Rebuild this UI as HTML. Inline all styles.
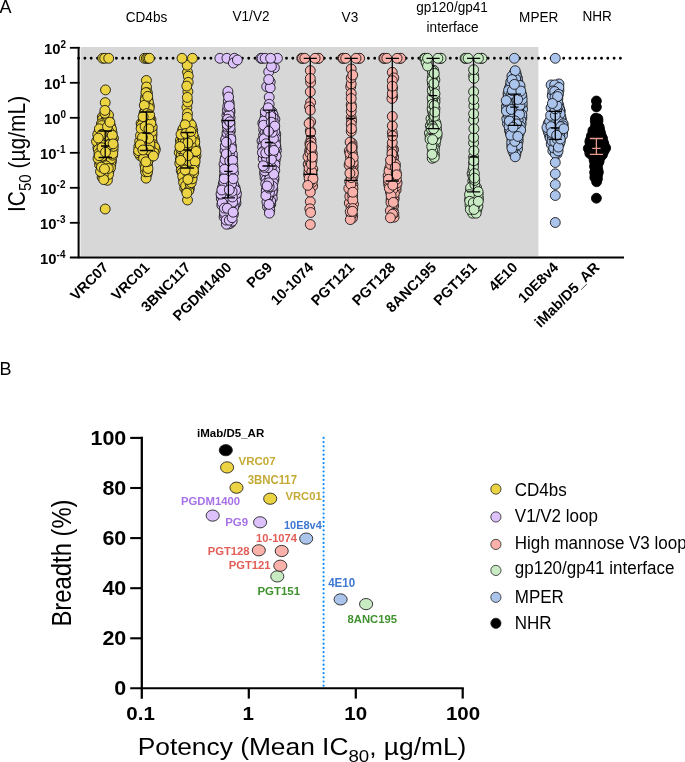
<!DOCTYPE html>
<html><head><meta charset="utf-8"><style>
html,body{margin:0;padding:0;background:#fff;}
body{width:685px;height:762px;overflow:hidden;font-family:"Liberation Sans",sans-serif;}
svg{display:block;will-change:transform;}
</style></head><body>
<svg width="685" height="762" viewBox="0 0 685 762">
<rect x="80.5" y="47" width="457.9" height="209.3" fill="#d7d7d7"/>
<line x1="78.6" y1="58.3" x2="623" y2="58.3" stroke="#000" stroke-width="2.9" stroke-linecap="round" stroke-dasharray="0 6.3"/>
<g fill="#ecd341" stroke="#0d0d0d" stroke-width="0.85"><circle cx="109.0" cy="155.4" r="4.95"/><circle cx="104.8" cy="146.8" r="4.95"/><circle cx="102.3" cy="117.0" r="4.95"/><circle cx="103.9" cy="164.4" r="4.95"/><circle cx="102.5" cy="119.3" r="4.95"/><circle cx="106.6" cy="132.4" r="4.95"/><circle cx="97.9" cy="143.3" r="4.95"/><circle cx="105.3" cy="171.5" r="4.95"/><circle cx="107.6" cy="176.2" r="4.95"/><circle cx="101.7" cy="153.2" r="4.95"/><circle cx="99.5" cy="164.6" r="4.95"/><circle cx="101.5" cy="141.9" r="4.95"/><circle cx="98.9" cy="132.2" r="4.95"/><circle cx="106.7" cy="113.8" r="4.95"/><circle cx="111.5" cy="161.3" r="4.95"/><circle cx="108.7" cy="147.7" r="4.95"/><circle cx="112.1" cy="132.7" r="4.95"/><circle cx="104.4" cy="159.7" r="4.95"/><circle cx="109.4" cy="153.5" r="4.95"/><circle cx="110.6" cy="126.1" r="4.95"/><circle cx="108.6" cy="158.4" r="4.95"/><circle cx="113.5" cy="138.3" r="4.95"/><circle cx="106.6" cy="116.9" r="4.95"/><circle cx="107.9" cy="137.9" r="4.95"/><circle cx="106.5" cy="128.5" r="4.95"/><circle cx="99.8" cy="161.3" r="4.95"/><circle cx="105.4" cy="155.2" r="4.95"/><circle cx="104.8" cy="138.2" r="4.95"/><circle cx="97.7" cy="134.6" r="4.95"/><circle cx="108.4" cy="119.5" r="4.95"/><circle cx="106.2" cy="149.6" r="4.95"/><circle cx="111.5" cy="128.9" r="4.95"/><circle cx="97.9" cy="147.7" r="4.95"/><circle cx="103.3" cy="128.2" r="4.95"/><circle cx="109.1" cy="170.5" r="4.95"/><circle cx="102.1" cy="177.0" r="4.95"/><circle cx="103.9" cy="125.3" r="4.95"/><circle cx="108.6" cy="135.0" r="4.95"/><circle cx="110.7" cy="164.4" r="4.95"/><circle cx="111.6" cy="138.8" r="4.95"/><circle cx="106.0" cy="120.6" r="4.95"/><circle cx="113.1" cy="150.1" r="4.95"/><circle cx="110.5" cy="167.8" r="4.95"/><circle cx="106.7" cy="174.6" r="4.95"/><circle cx="108.1" cy="162.0" r="4.95"/><circle cx="107.4" cy="180.3" r="4.95"/><circle cx="96.5" cy="141.4" r="4.95"/><circle cx="108.9" cy="149.9" r="4.95"/><circle cx="104.6" cy="162.9" r="4.95"/><circle cx="111.2" cy="158.7" r="4.95"/><circle cx="101.7" cy="137.7" r="4.95"/><circle cx="109.0" cy="141.3" r="4.95"/><circle cx="112.4" cy="140.9" r="4.95"/><circle cx="101.4" cy="158.8" r="4.95"/><circle cx="101.6" cy="144.5" r="4.95"/><circle cx="98.0" cy="158.4" r="4.95"/><circle cx="108.6" cy="174.4" r="4.95"/><circle cx="108.5" cy="115.0" r="4.95"/><circle cx="105.7" cy="140.6" r="4.95"/><circle cx="105.3" cy="122.8" r="4.95"/><circle cx="104.9" cy="113.2" r="4.95"/><circle cx="101.4" cy="123.8" r="4.95"/><circle cx="112.6" cy="155.2" r="4.95"/><circle cx="102.6" cy="131.6" r="4.95"/><circle cx="106.2" cy="165.8" r="4.95"/><circle cx="102.1" cy="150.0" r="4.95"/><circle cx="112.8" cy="153.5" r="4.95"/><circle cx="98.4" cy="149.5" r="4.95"/><circle cx="101.7" cy="125.6" r="4.95"/><circle cx="105.5" cy="143.5" r="4.95"/><circle cx="98.9" cy="153.3" r="4.95"/><circle cx="109.2" cy="132.1" r="4.95"/><circle cx="108.3" cy="168.4" r="4.95"/><circle cx="103.2" cy="174.9" r="4.95"/><circle cx="113.3" cy="146.4" r="4.95"/><circle cx="99.4" cy="128.8" r="4.95"/><circle cx="103.7" cy="179.6" r="4.95"/><circle cx="105.2" cy="102.6" r="4.95"/><circle cx="100.5" cy="171.5" r="4.95"/><circle cx="104.9" cy="110.4" r="4.95"/><circle cx="101.4" cy="167.1" r="4.95"/><circle cx="104.5" cy="168.9" r="4.95"/><circle cx="102.1" cy="156.2" r="4.95"/><circle cx="105.1" cy="135.5" r="4.95"/><circle cx="109.7" cy="144.7" r="4.95"/><circle cx="102.0" cy="134.3" r="4.95"/><circle cx="99.2" cy="155.8" r="4.95"/><circle cx="98.3" cy="138.1" r="4.95"/><circle cx="107.5" cy="126.6" r="4.95"/><circle cx="112.3" cy="135.3" r="4.95"/><circle cx="109.9" cy="122.2" r="4.95"/><circle cx="102.0" cy="147.7" r="4.95"/><circle cx="105.2" cy="209.0" r="4.95"/><circle cx="105.5" cy="89.9" r="4.95"/><circle cx="105.5" cy="152.2" r="4.95"/><circle cx="113.1" cy="143.9" r="4.95"/><circle cx="102.7" cy="58.3" r="4.95"/><circle cx="104.7" cy="58.3" r="4.95"/><circle cx="108.7" cy="58.3" r="4.95"/></g>
<g stroke="#000" stroke-width="1.3" fill="none"><path d="M105.2 131 V157.5 M98.6 131 H111.8 M98.6 157.5 H111.8 M101.0 146 H109.4"/></g>
<g fill="#ecd341" stroke="#0d0d0d" stroke-width="0.85"><circle cx="141.8" cy="152.6" r="4.95"/><circle cx="147.0" cy="174.1" r="4.95"/><circle cx="143.6" cy="144.3" r="4.95"/><circle cx="144.4" cy="122.8" r="4.95"/><circle cx="144.0" cy="128.5" r="4.95"/><circle cx="146.8" cy="144.0" r="4.95"/><circle cx="148.8" cy="135.5" r="4.95"/><circle cx="144.8" cy="164.6" r="4.95"/><circle cx="141.1" cy="123.3" r="4.95"/><circle cx="140.2" cy="155.7" r="4.95"/><circle cx="147.9" cy="99.5" r="4.95"/><circle cx="144.5" cy="134.5" r="4.95"/><circle cx="145.0" cy="131.7" r="4.95"/><circle cx="149.3" cy="105.7" r="4.95"/><circle cx="147.8" cy="123.7" r="4.95"/><circle cx="151.0" cy="119.7" r="4.95"/><circle cx="148.8" cy="159.3" r="4.95"/><circle cx="148.0" cy="157.2" r="4.95"/><circle cx="151.9" cy="129.2" r="4.95"/><circle cx="149.8" cy="132.4" r="4.95"/><circle cx="146.4" cy="90.4" r="4.95"/><circle cx="152.1" cy="134.6" r="4.95"/><circle cx="147.5" cy="164.5" r="4.95"/><circle cx="152.0" cy="141.0" r="4.95"/><circle cx="146.1" cy="178.2" r="4.95"/><circle cx="146.4" cy="80.5" r="4.95"/><circle cx="152.3" cy="149.5" r="4.95"/><circle cx="143.4" cy="119.8" r="4.95"/><circle cx="146.5" cy="120.1" r="4.95"/><circle cx="146.7" cy="117.6" r="4.95"/><circle cx="145.3" cy="102.3" r="4.95"/><circle cx="149.8" cy="118.0" r="4.95"/><circle cx="148.4" cy="102.2" r="4.95"/><circle cx="142.3" cy="132.9" r="4.95"/><circle cx="145.6" cy="109.1" r="4.95"/><circle cx="146.1" cy="150.7" r="4.95"/><circle cx="145.5" cy="171.8" r="4.95"/><circle cx="151.8" cy="137.9" r="4.95"/><circle cx="139.7" cy="141.3" r="4.95"/><circle cx="148.8" cy="121.2" r="4.95"/><circle cx="145.4" cy="167.9" r="4.95"/><circle cx="145.8" cy="147.9" r="4.95"/><circle cx="152.0" cy="131.6" r="4.95"/><circle cx="144.6" cy="111.9" r="4.95"/><circle cx="138.7" cy="152.9" r="4.95"/><circle cx="148.3" cy="110.6" r="4.95"/><circle cx="155.4" cy="149.5" r="4.95"/><circle cx="147.9" cy="140.5" r="4.95"/><circle cx="144.0" cy="113.5" r="4.95"/><circle cx="141.4" cy="125.4" r="4.95"/><circle cx="142.5" cy="148.1" r="4.95"/><circle cx="153.3" cy="144.7" r="4.95"/><circle cx="138.8" cy="146.7" r="4.95"/><circle cx="154.6" cy="147.1" r="4.95"/><circle cx="140.5" cy="135.6" r="4.95"/><circle cx="150.7" cy="152.9" r="4.95"/><circle cx="141.1" cy="128.6" r="4.95"/><circle cx="149.3" cy="125.5" r="4.95"/><circle cx="146.1" cy="138.2" r="4.95"/><circle cx="145.7" cy="96.8" r="4.95"/><circle cx="144.0" cy="140.6" r="4.95"/><circle cx="143.7" cy="155.9" r="4.95"/><circle cx="146.5" cy="87.0" r="4.95"/><circle cx="152.2" cy="126.8" r="4.95"/><circle cx="150.1" cy="147.3" r="4.95"/><circle cx="145.1" cy="126.5" r="4.95"/><circle cx="150.9" cy="155.8" r="4.95"/><circle cx="145.2" cy="100.0" r="4.95"/><circle cx="149.9" cy="143.9" r="4.95"/><circle cx="148.8" cy="138.4" r="4.95"/><circle cx="149.2" cy="108.4" r="4.95"/><circle cx="142.5" cy="137.5" r="4.95"/><circle cx="147.6" cy="171.7" r="4.95"/><circle cx="148.0" cy="168.5" r="4.95"/><circle cx="147.4" cy="92.8" r="4.95"/><circle cx="144.3" cy="105.3" r="4.95"/><circle cx="150.9" cy="123.4" r="4.95"/><circle cx="154.1" cy="152.9" r="4.95"/><circle cx="145.9" cy="92.6" r="4.95"/><circle cx="146.9" cy="154.0" r="4.95"/><circle cx="147.8" cy="161.4" r="4.95"/><circle cx="149.3" cy="150.1" r="4.95"/><circle cx="146.9" cy="113.5" r="4.95"/><circle cx="138.6" cy="150.6" r="4.95"/><circle cx="140.2" cy="144.8" r="4.95"/><circle cx="143.6" cy="158.4" r="4.95"/><circle cx="142.9" cy="150.0" r="4.95"/><circle cx="147.7" cy="96.4" r="4.95"/><circle cx="149.6" cy="114.8" r="4.95"/><circle cx="145.9" cy="161.8" r="4.95"/><circle cx="153.4" cy="156.0" r="4.95"/><circle cx="148.9" cy="128.9" r="4.95"/><circle cx="143.1" cy="116.7" r="4.95"/><circle cx="144.4" cy="58.3" r="4.95"/><circle cx="146.4" cy="58.3" r="4.95"/><circle cx="147.9" cy="58.3" r="4.95"/><circle cx="149.4" cy="58.3" r="4.95"/></g>
<g stroke="#000" stroke-width="1.3" fill="none"><path d="M146.4 112 V150.5 M139.8 112 H153.0 M139.8 150.5 H153.0 M142.2 133 H150.6"/></g>
<g fill="#ecd341" stroke="#0d0d0d" stroke-width="0.85"><circle cx="180.4" cy="140.2" r="4.95"/><circle cx="183.8" cy="145.9" r="4.95"/><circle cx="183.5" cy="179.0" r="4.95"/><circle cx="186.9" cy="182.2" r="4.95"/><circle cx="187.9" cy="148.1" r="4.95"/><circle cx="187.5" cy="140.7" r="4.95"/><circle cx="187.8" cy="164.8" r="4.95"/><circle cx="190.8" cy="167.1" r="4.95"/><circle cx="189.5" cy="172.5" r="4.95"/><circle cx="192.0" cy="176.6" r="4.95"/><circle cx="186.9" cy="107.4" r="4.95"/><circle cx="180.7" cy="143.4" r="4.95"/><circle cx="192.7" cy="130.6" r="4.95"/><circle cx="188.2" cy="158.8" r="4.95"/><circle cx="187.3" cy="152.3" r="4.95"/><circle cx="181.3" cy="166.6" r="4.95"/><circle cx="194.4" cy="139.6" r="4.95"/><circle cx="192.1" cy="127.6" r="4.95"/><circle cx="187.2" cy="173.3" r="4.95"/><circle cx="187.7" cy="102.0" r="4.95"/><circle cx="179.8" cy="163.3" r="4.95"/><circle cx="184.4" cy="137.5" r="4.95"/><circle cx="187.5" cy="113.5" r="4.95"/><circle cx="192.3" cy="142.3" r="4.95"/><circle cx="187.9" cy="91.6" r="4.95"/><circle cx="182.5" cy="136.9" r="4.95"/><circle cx="185.5" cy="160.3" r="4.95"/><circle cx="189.6" cy="169.2" r="4.95"/><circle cx="181.2" cy="170.6" r="4.95"/><circle cx="186.2" cy="175.8" r="4.95"/><circle cx="183.4" cy="140.7" r="4.95"/><circle cx="182.3" cy="172.4" r="4.95"/><circle cx="196.0" cy="155.5" r="4.95"/><circle cx="187.7" cy="185.2" r="4.95"/><circle cx="191.7" cy="136.5" r="4.95"/><circle cx="194.3" cy="164.5" r="4.95"/><circle cx="187.8" cy="124.7" r="4.95"/><circle cx="187.5" cy="72.1" r="4.95"/><circle cx="191.3" cy="157.9" r="4.95"/><circle cx="189.4" cy="188.4" r="4.95"/><circle cx="182.7" cy="176.4" r="4.95"/><circle cx="182.5" cy="130.8" r="4.95"/><circle cx="193.9" cy="166.6" r="4.95"/><circle cx="187.3" cy="130.2" r="4.95"/><circle cx="185.9" cy="166.4" r="4.95"/><circle cx="184.7" cy="188.2" r="4.95"/><circle cx="188.0" cy="167.5" r="4.95"/><circle cx="192.9" cy="148.8" r="4.95"/><circle cx="187.0" cy="127.1" r="4.95"/><circle cx="186.6" cy="190.9" r="4.95"/><circle cx="183.6" cy="182.7" r="4.95"/><circle cx="185.0" cy="142.8" r="4.95"/><circle cx="184.8" cy="154.9" r="4.95"/><circle cx="184.2" cy="163.2" r="4.95"/><circle cx="189.3" cy="122.4" r="4.95"/><circle cx="183.1" cy="128.8" r="4.95"/><circle cx="195.0" cy="158.5" r="4.95"/><circle cx="183.7" cy="157.2" r="4.95"/><circle cx="185.6" cy="185.7" r="4.95"/><circle cx="188.2" cy="137.7" r="4.95"/><circle cx="180.4" cy="158.8" r="4.95"/><circle cx="192.6" cy="161.7" r="4.95"/><circle cx="188.3" cy="76.2" r="4.95"/><circle cx="195.4" cy="148.5" r="4.95"/><circle cx="194.1" cy="137.8" r="4.95"/><circle cx="179.2" cy="152.5" r="4.95"/><circle cx="188.2" cy="82.4" r="4.95"/><circle cx="191.2" cy="164.1" r="4.95"/><circle cx="194.7" cy="145.4" r="4.95"/><circle cx="194.8" cy="142.2" r="4.95"/><circle cx="188.8" cy="190.7" r="4.95"/><circle cx="181.3" cy="154.8" r="4.95"/><circle cx="188.9" cy="161.4" r="4.95"/><circle cx="190.2" cy="184.2" r="4.95"/><circle cx="190.2" cy="133.9" r="4.95"/><circle cx="193.0" cy="154.3" r="4.95"/><circle cx="187.3" cy="97.4" r="4.95"/><circle cx="186.2" cy="122.3" r="4.95"/><circle cx="191.5" cy="152.5" r="4.95"/><circle cx="191.2" cy="182.7" r="4.95"/><circle cx="191.2" cy="146.1" r="4.95"/><circle cx="192.1" cy="178.9" r="4.95"/><circle cx="193.0" cy="134.5" r="4.95"/><circle cx="195.1" cy="161.5" r="4.95"/><circle cx="191.2" cy="124.7" r="4.95"/><circle cx="183.5" cy="152.1" r="4.95"/><circle cx="187.2" cy="146.5" r="4.95"/><circle cx="193.7" cy="172.8" r="4.95"/><circle cx="191.1" cy="139.4" r="4.95"/><circle cx="187.3" cy="117.4" r="4.95"/><circle cx="187.2" cy="65.2" r="4.95"/><circle cx="185.1" cy="124.8" r="4.95"/><circle cx="187.5" cy="200.0" r="4.95"/><circle cx="196.0" cy="151.3" r="4.95"/><circle cx="186.9" cy="193.2" r="4.95"/><circle cx="180.6" cy="148.7" r="4.95"/><circle cx="184.2" cy="149.6" r="4.95"/><circle cx="188.9" cy="175.1" r="4.95"/><circle cx="193.4" cy="170.3" r="4.95"/><circle cx="188.0" cy="143.0" r="4.95"/><circle cx="186.8" cy="86.1" r="4.95"/><circle cx="188.1" cy="155.6" r="4.95"/><circle cx="187.9" cy="179.5" r="4.95"/><circle cx="180.6" cy="160.4" r="4.95"/><circle cx="185.1" cy="170.0" r="4.95"/><circle cx="181.0" cy="134.3" r="4.95"/><circle cx="185.8" cy="133.4" r="4.95"/><circle cx="179.9" cy="146.6" r="4.95"/><circle cx="190.8" cy="131.5" r="4.95"/><circle cx="182.0" cy="58.3" r="4.95"/><circle cx="192.5" cy="58.3" r="4.95"/></g>
<g stroke="#000" stroke-width="1.3" fill="none"><path d="M187.5 132.5 V168 M180.9 132.5 H194.1 M180.9 168 H194.1 M183.3 150 H191.7"/></g>
<g fill="#dcc1fb" stroke="#0d0d0d" stroke-width="0.85"><circle cx="231.0" cy="152.0" r="4.95"/><circle cx="236.0" cy="196.8" r="4.95"/><circle cx="236.0" cy="203.2" r="4.95"/><circle cx="234.4" cy="205.3" r="4.95"/><circle cx="225.1" cy="194.1" r="4.95"/><circle cx="232.6" cy="158.2" r="4.95"/><circle cx="229.9" cy="214.9" r="4.95"/><circle cx="225.1" cy="166.3" r="4.95"/><circle cx="232.4" cy="154.1" r="4.95"/><circle cx="223.9" cy="199.7" r="4.95"/><circle cx="226.6" cy="121.0" r="4.95"/><circle cx="228.1" cy="216.7" r="4.95"/><circle cx="228.3" cy="162.9" r="4.95"/><circle cx="224.4" cy="176.0" r="4.95"/><circle cx="235.1" cy="187.8" r="4.95"/><circle cx="226.7" cy="136.7" r="4.95"/><circle cx="224.1" cy="216.9" r="4.95"/><circle cx="223.3" cy="184.2" r="4.95"/><circle cx="230.7" cy="223.1" r="4.95"/><circle cx="230.4" cy="130.7" r="4.95"/><circle cx="232.0" cy="193.3" r="4.95"/><circle cx="228.4" cy="151.5" r="4.95"/><circle cx="226.9" cy="181.0" r="4.95"/><circle cx="225.9" cy="205.5" r="4.95"/><circle cx="221.8" cy="205.1" r="4.95"/><circle cx="221.3" cy="198.6" r="4.95"/><circle cx="228.8" cy="223.9" r="4.95"/><circle cx="228.3" cy="211.5" r="4.95"/><circle cx="230.1" cy="117.7" r="4.95"/><circle cx="233.4" cy="214.3" r="4.95"/><circle cx="231.2" cy="178.8" r="4.95"/><circle cx="225.5" cy="139.7" r="4.95"/><circle cx="229.7" cy="133.5" r="4.95"/><circle cx="222.0" cy="195.7" r="4.95"/><circle cx="224.6" cy="214.6" r="4.95"/><circle cx="231.5" cy="208.1" r="4.95"/><circle cx="232.1" cy="176.2" r="4.95"/><circle cx="228.5" cy="170.3" r="4.95"/><circle cx="229.2" cy="102.9" r="4.95"/><circle cx="224.9" cy="197.3" r="4.95"/><circle cx="231.6" cy="200.2" r="4.95"/><circle cx="226.9" cy="115.4" r="4.95"/><circle cx="225.9" cy="202.0" r="4.95"/><circle cx="232.2" cy="221.2" r="4.95"/><circle cx="228.5" cy="205.7" r="4.95"/><circle cx="224.0" cy="164.3" r="4.95"/><circle cx="231.4" cy="146.1" r="4.95"/><circle cx="225.4" cy="157.8" r="4.95"/><circle cx="229.8" cy="202.7" r="4.95"/><circle cx="228.2" cy="192.7" r="4.95"/><circle cx="226.4" cy="224.2" r="4.95"/><circle cx="235.7" cy="200.1" r="4.95"/><circle cx="227.9" cy="112.1" r="4.95"/><circle cx="236.5" cy="193.5" r="4.95"/><circle cx="228.3" cy="156.7" r="4.95"/><circle cx="225.0" cy="150.7" r="4.95"/><circle cx="229.4" cy="154.8" r="4.95"/><circle cx="232.8" cy="182.3" r="4.95"/><circle cx="224.5" cy="212.3" r="4.95"/><circle cx="232.0" cy="162.8" r="4.95"/><circle cx="233.5" cy="173.0" r="4.95"/><circle cx="233.8" cy="185.1" r="4.95"/><circle cx="230.0" cy="112.1" r="4.95"/><circle cx="230.8" cy="143.4" r="4.95"/><circle cx="227.0" cy="132.9" r="4.95"/><circle cx="235.6" cy="190.4" r="4.95"/><circle cx="228.3" cy="101.4" r="4.95"/><circle cx="228.7" cy="198.8" r="4.95"/><circle cx="226.2" cy="220.1" r="4.95"/><circle cx="233.6" cy="207.7" r="4.95"/><circle cx="228.1" cy="130.0" r="4.95"/><circle cx="229.0" cy="196.9" r="4.95"/><circle cx="227.9" cy="177.8" r="4.95"/><circle cx="231.2" cy="205.3" r="4.95"/><circle cx="224.7" cy="171.9" r="4.95"/><circle cx="232.7" cy="202.2" r="4.95"/><circle cx="230.4" cy="188.1" r="4.95"/><circle cx="225.0" cy="159.6" r="4.95"/><circle cx="226.9" cy="185.3" r="4.95"/><circle cx="227.5" cy="110.0" r="4.95"/><circle cx="232.4" cy="197.0" r="4.95"/><circle cx="227.4" cy="148.3" r="4.95"/><circle cx="229.7" cy="165.8" r="4.95"/><circle cx="231.5" cy="148.7" r="4.95"/><circle cx="230.1" cy="123.6" r="4.95"/><circle cx="232.1" cy="191.4" r="4.95"/><circle cx="229.8" cy="110.0" r="4.95"/><circle cx="229.1" cy="115.0" r="4.95"/><circle cx="228.8" cy="171.7" r="4.95"/><circle cx="227.4" cy="127.0" r="4.95"/><circle cx="225.3" cy="145.9" r="4.95"/><circle cx="227.8" cy="93.7" r="4.95"/><circle cx="222.2" cy="202.8" r="4.95"/><circle cx="230.0" cy="127.3" r="4.95"/><circle cx="228.1" cy="176.1" r="4.95"/><circle cx="225.5" cy="190.3" r="4.95"/><circle cx="229.3" cy="220.2" r="4.95"/><circle cx="230.5" cy="136.8" r="4.95"/><circle cx="227.2" cy="124.4" r="4.95"/><circle cx="226.0" cy="187.3" r="4.95"/><circle cx="224.4" cy="208.1" r="4.95"/><circle cx="222.4" cy="187.8" r="4.95"/><circle cx="232.9" cy="165.9" r="4.95"/><circle cx="230.9" cy="139.2" r="4.95"/><circle cx="230.1" cy="181.6" r="4.95"/><circle cx="227.3" cy="208.3" r="4.95"/><circle cx="223.9" cy="181.7" r="4.95"/><circle cx="227.7" cy="119.2" r="4.95"/><circle cx="226.3" cy="153.9" r="4.95"/><circle cx="229.7" cy="161.0" r="4.95"/><circle cx="231.6" cy="183.9" r="4.95"/><circle cx="227.9" cy="91.4" r="4.95"/><circle cx="232.1" cy="217.7" r="4.95"/><circle cx="228.6" cy="97.0" r="4.95"/><circle cx="227.8" cy="106.4" r="4.95"/><circle cx="221.0" cy="194.1" r="4.95"/><circle cx="221.8" cy="190.0" r="4.95"/><circle cx="226.3" cy="142.2" r="4.95"/><circle cx="224.2" cy="178.7" r="4.95"/><circle cx="229.8" cy="121.8" r="4.95"/><circle cx="229.3" cy="106.0" r="4.95"/><circle cx="233.1" cy="212.2" r="4.95"/><circle cx="232.6" cy="160.3" r="4.95"/><circle cx="233.2" cy="178.8" r="4.95"/><circle cx="224.6" cy="169.3" r="4.95"/><circle cx="233.1" cy="168.9" r="4.95"/><circle cx="229.3" cy="189.9" r="4.95"/><circle cx="219.9" cy="58.3" r="4.95"/><circle cx="226.9" cy="58.3" r="4.95"/><circle cx="234.4" cy="58.3" r="4.95"/><circle cx="233.4" cy="63.0" r="4.95"/><circle cx="237.4" cy="60.0" r="4.95"/></g>
<g stroke="#000" stroke-width="1.3" fill="none"><path d="M228.4 120.5 V197.9 M221.8 120.5 H235.0 M221.8 197.9 H235.0 M224.2 171.3 H232.6"/></g>
<g fill="#dcc1fb" stroke="#0d0d0d" stroke-width="0.85"><circle cx="272.5" cy="140.6" r="4.95"/><circle cx="275.5" cy="141.0" r="4.95"/><circle cx="269.8" cy="146.5" r="4.95"/><circle cx="266.7" cy="86.6" r="4.95"/><circle cx="265.5" cy="113.8" r="4.95"/><circle cx="270.0" cy="156.7" r="4.95"/><circle cx="269.4" cy="177.3" r="4.95"/><circle cx="272.3" cy="125.5" r="4.95"/><circle cx="272.1" cy="194.1" r="4.95"/><circle cx="276.4" cy="150.3" r="4.95"/><circle cx="271.9" cy="111.7" r="4.95"/><circle cx="274.3" cy="167.6" r="4.95"/><circle cx="267.5" cy="206.8" r="4.95"/><circle cx="271.1" cy="174.6" r="4.95"/><circle cx="263.6" cy="135.3" r="4.95"/><circle cx="272.3" cy="198.4" r="4.95"/><circle cx="270.8" cy="204.2" r="4.95"/><circle cx="265.1" cy="141.1" r="4.95"/><circle cx="274.4" cy="67.7" r="4.95"/><circle cx="268.7" cy="71.8" r="4.95"/><circle cx="276.0" cy="147.0" r="4.95"/><circle cx="270.7" cy="201.0" r="4.95"/><circle cx="263.8" cy="156.2" r="4.95"/><circle cx="273.2" cy="156.1" r="4.95"/><circle cx="268.2" cy="162.4" r="4.95"/><circle cx="266.7" cy="123.9" r="4.95"/><circle cx="266.9" cy="165.8" r="4.95"/><circle cx="275.0" cy="153.2" r="4.95"/><circle cx="266.1" cy="149.7" r="4.95"/><circle cx="270.0" cy="137.6" r="4.95"/><circle cx="269.6" cy="206.2" r="4.95"/><circle cx="264.6" cy="173.6" r="4.95"/><circle cx="269.8" cy="210.2" r="4.95"/><circle cx="265.3" cy="147.6" r="4.95"/><circle cx="269.2" cy="97.2" r="4.95"/><circle cx="275.8" cy="134.2" r="4.95"/><circle cx="273.8" cy="144.8" r="4.95"/><circle cx="272.9" cy="189.7" r="4.95"/><circle cx="272.0" cy="120.1" r="4.95"/><circle cx="264.5" cy="162.6" r="4.95"/><circle cx="273.9" cy="179.6" r="4.95"/><circle cx="273.1" cy="114.8" r="4.95"/><circle cx="269.2" cy="104.3" r="4.95"/><circle cx="262.0" cy="140.9" r="4.95"/><circle cx="263.2" cy="158.6" r="4.95"/><circle cx="265.0" cy="177.6" r="4.95"/><circle cx="274.3" cy="128.2" r="4.95"/><circle cx="274.9" cy="119.2" r="4.95"/><circle cx="275.0" cy="161.7" r="4.95"/><circle cx="263.7" cy="129.7" r="4.95"/><circle cx="269.0" cy="194.5" r="4.95"/><circle cx="267.9" cy="197.8" r="4.95"/><circle cx="268.6" cy="119.8" r="4.95"/><circle cx="262.8" cy="123.2" r="4.95"/><circle cx="273.1" cy="117.8" r="4.95"/><circle cx="266.4" cy="189.7" r="4.95"/><circle cx="265.1" cy="117.6" r="4.95"/><circle cx="275.4" cy="158.6" r="4.95"/><circle cx="270.2" cy="81.9" r="4.95"/><circle cx="272.2" cy="191.5" r="4.95"/><circle cx="276.2" cy="155.9" r="4.95"/><circle cx="270.2" cy="113.8" r="4.95"/><circle cx="266.1" cy="179.5" r="4.95"/><circle cx="265.0" cy="132.7" r="4.95"/><circle cx="266.0" cy="156.1" r="4.95"/><circle cx="269.6" cy="110.5" r="4.95"/><circle cx="263.2" cy="144.5" r="4.95"/><circle cx="274.2" cy="123.3" r="4.95"/><circle cx="271.7" cy="164.4" r="4.95"/><circle cx="272.7" cy="162.4" r="4.95"/><circle cx="267.6" cy="116.9" r="4.95"/><circle cx="262.6" cy="147.1" r="4.95"/><circle cx="274.9" cy="164.5" r="4.95"/><circle cx="267.4" cy="126.6" r="4.95"/><circle cx="269.4" cy="144.4" r="4.95"/><circle cx="264.1" cy="120.7" r="4.95"/><circle cx="274.8" cy="170.6" r="4.95"/><circle cx="272.6" cy="153.8" r="4.95"/><circle cx="266.2" cy="191.6" r="4.95"/><circle cx="269.4" cy="141.6" r="4.95"/><circle cx="275.5" cy="138.0" r="4.95"/><circle cx="266.8" cy="134.7" r="4.95"/><circle cx="274.0" cy="177.3" r="4.95"/><circle cx="267.3" cy="138.2" r="4.95"/><circle cx="265.3" cy="111.7" r="4.95"/><circle cx="268.6" cy="153.9" r="4.95"/><circle cx="267.6" cy="129.4" r="4.95"/><circle cx="266.7" cy="171.6" r="4.95"/><circle cx="264.3" cy="150.1" r="4.95"/><circle cx="270.7" cy="134.7" r="4.95"/><circle cx="270.6" cy="170.5" r="4.95"/><circle cx="275.6" cy="144.8" r="4.95"/><circle cx="268.8" cy="173.1" r="4.95"/><circle cx="264.1" cy="138.7" r="4.95"/><circle cx="274.8" cy="131.3" r="4.95"/><circle cx="269.5" cy="192.4" r="4.95"/><circle cx="266.9" cy="201.9" r="4.95"/><circle cx="271.4" cy="66.5" r="4.95"/><circle cx="271.4" cy="167.3" r="4.95"/><circle cx="266.6" cy="158.7" r="4.95"/><circle cx="269.5" cy="179.3" r="4.95"/><circle cx="273.5" cy="138.5" r="4.95"/><circle cx="262.4" cy="152.6" r="4.95"/><circle cx="271.8" cy="147.8" r="4.95"/><circle cx="273.1" cy="182.4" r="4.95"/><circle cx="265.9" cy="195.6" r="4.95"/><circle cx="268.8" cy="188.1" r="4.95"/><circle cx="269.4" cy="213.1" r="4.95"/><circle cx="264.8" cy="170.9" r="4.95"/><circle cx="266.0" cy="143.7" r="4.95"/><circle cx="263.6" cy="125.2" r="4.95"/><circle cx="272.6" cy="186.3" r="4.95"/><circle cx="272.3" cy="132.2" r="4.95"/><circle cx="273.7" cy="174.2" r="4.95"/><circle cx="271.4" cy="159.4" r="4.95"/><circle cx="268.0" cy="167.6" r="4.95"/><circle cx="265.7" cy="153.1" r="4.95"/><circle cx="270.8" cy="128.5" r="4.95"/><circle cx="264.2" cy="167.4" r="4.95"/><circle cx="270.2" cy="87.8" r="4.95"/><circle cx="269.2" cy="186.6" r="4.95"/><circle cx="270.7" cy="116.1" r="4.95"/><circle cx="265.7" cy="183.7" r="4.95"/><circle cx="268.7" cy="79.5" r="4.95"/><circle cx="271.3" cy="122.2" r="4.95"/><circle cx="274.8" cy="126.1" r="4.95"/><circle cx="268.2" cy="107.8" r="4.95"/><circle cx="269.0" cy="204.4" r="4.95"/><circle cx="268.7" cy="182.8" r="4.95"/><circle cx="269.4" cy="150.8" r="4.95"/><circle cx="267.1" cy="186.0" r="4.95"/><circle cx="263.2" cy="165.8" r="4.95"/><circle cx="273.9" cy="150.4" r="4.95"/><circle cx="268.5" cy="131.3" r="4.95"/><circle cx="260.9" cy="58.3" r="4.95"/><circle cx="262.1" cy="58.3" r="4.95"/><circle cx="277.4" cy="58.3" r="4.95"/><circle cx="265.1" cy="58.3" r="4.95"/><circle cx="270.6" cy="58.3" r="4.95"/></g>
<g stroke="#000" stroke-width="1.3" fill="none"><path d="M269.1 110.2 V166 M262.5 110.2 H275.7 M262.5 166 H275.7 M264.9 142.5 H273.3"/></g>
<g fill="#f9b1aa" stroke="#0d0d0d" stroke-width="0.85"><circle cx="312.6" cy="186.2" r="4.95"/><circle cx="310.3" cy="201.6" r="4.95"/><circle cx="310.6" cy="82.3" r="4.95"/><circle cx="308.2" cy="164.2" r="4.95"/><circle cx="308.6" cy="174.8" r="4.95"/><circle cx="309.8" cy="161.1" r="4.95"/><circle cx="312.2" cy="182.4" r="4.95"/><circle cx="312.3" cy="153.6" r="4.95"/><circle cx="310.6" cy="102.4" r="4.95"/><circle cx="308.9" cy="171.5" r="4.95"/><circle cx="309.1" cy="168.2" r="4.95"/><circle cx="310.3" cy="70.6" r="4.95"/><circle cx="312.8" cy="169.1" r="4.95"/><circle cx="309.4" cy="182.4" r="4.95"/><circle cx="309.5" cy="106.8" r="4.95"/><circle cx="310.7" cy="121.9" r="4.95"/><circle cx="312.3" cy="174.7" r="4.95"/><circle cx="308.0" cy="156.7" r="4.95"/><circle cx="311.8" cy="171.8" r="4.95"/><circle cx="311.0" cy="139.7" r="4.95"/><circle cx="309.6" cy="150.8" r="4.95"/><circle cx="309.8" cy="208.8" r="4.95"/><circle cx="309.9" cy="143.3" r="4.95"/><circle cx="309.1" cy="178.3" r="4.95"/><circle cx="310.6" cy="212.5" r="4.95"/><circle cx="310.3" cy="192.0" r="4.95"/><circle cx="310.3" cy="130.8" r="4.95"/><circle cx="311.0" cy="142.7" r="4.95"/><circle cx="310.3" cy="78.4" r="4.95"/><circle cx="310.6" cy="132.5" r="4.95"/><circle cx="313.0" cy="178.8" r="4.95"/><circle cx="310.0" cy="153.2" r="4.95"/><circle cx="312.1" cy="160.6" r="4.95"/><circle cx="310.3" cy="91.8" r="4.95"/><circle cx="310.1" cy="145.7" r="4.95"/><circle cx="311.4" cy="164.2" r="4.95"/><circle cx="311.1" cy="150.2" r="4.95"/><circle cx="312.3" cy="157.1" r="4.95"/><circle cx="307.8" cy="185.4" r="4.95"/><circle cx="309.1" cy="123.5" r="4.95"/><circle cx="310.3" cy="110.2" r="4.95"/><circle cx="311.8" cy="147.0" r="4.95"/><circle cx="310.3" cy="224.5" r="4.95"/><circle cx="301.7" cy="58.3" r="4.95"/><circle cx="302.5" cy="58.3" r="4.95"/><circle cx="318.1" cy="58.3" r="4.95"/><circle cx="318.7" cy="58.3" r="4.95"/><circle cx="304.8" cy="58.3" r="4.95"/><circle cx="315.1" cy="58.3" r="4.95"/></g>
<g stroke="#000" stroke-width="1.3" fill="none"><path d="M310.3 58.3 V174.4 M303.7 58.3 H316.9 M303.7 174.4 H316.9 M306.1 136 H314.5"/></g>
<g fill="#f9b1aa" stroke="#0d0d0d" stroke-width="0.85"><circle cx="351.2" cy="131.4" r="4.95"/><circle cx="351.2" cy="117.5" r="4.95"/><circle cx="351.6" cy="120.8" r="4.95"/><circle cx="352.9" cy="184.8" r="4.95"/><circle cx="353.2" cy="166.2" r="4.95"/><circle cx="351.0" cy="200.8" r="4.95"/><circle cx="352.0" cy="143.2" r="4.95"/><circle cx="350.7" cy="86.8" r="4.95"/><circle cx="353.0" cy="169.8" r="4.95"/><circle cx="352.7" cy="215.4" r="4.95"/><circle cx="351.2" cy="124.2" r="4.95"/><circle cx="349.3" cy="150.9" r="4.95"/><circle cx="353.0" cy="188.5" r="4.95"/><circle cx="351.2" cy="84.0" r="4.95"/><circle cx="350.7" cy="191.8" r="4.95"/><circle cx="352.5" cy="153.7" r="4.95"/><circle cx="349.3" cy="203.0" r="4.95"/><circle cx="353.2" cy="162.4" r="4.95"/><circle cx="349.7" cy="181.6" r="4.95"/><circle cx="351.2" cy="104.6" r="4.95"/><circle cx="351.2" cy="77.9" r="4.95"/><circle cx="349.8" cy="196.4" r="4.95"/><circle cx="352.7" cy="196.0" r="4.95"/><circle cx="350.1" cy="142.1" r="4.95"/><circle cx="351.2" cy="111.3" r="4.95"/><circle cx="350.5" cy="157.5" r="4.95"/><circle cx="350.0" cy="153.5" r="4.95"/><circle cx="352.4" cy="218.1" r="4.95"/><circle cx="353.5" cy="204.2" r="4.95"/><circle cx="351.2" cy="215.0" r="4.95"/><circle cx="352.2" cy="180.7" r="4.95"/><circle cx="352.3" cy="146.6" r="4.95"/><circle cx="353.0" cy="176.3" r="4.95"/><circle cx="351.1" cy="170.0" r="4.95"/><circle cx="349.1" cy="165.0" r="4.95"/><circle cx="348.8" cy="188.4" r="4.95"/><circle cx="351.2" cy="68.9" r="4.95"/><circle cx="352.7" cy="75.0" r="4.95"/><circle cx="350.3" cy="219.6" r="4.95"/><circle cx="352.0" cy="150.0" r="4.95"/><circle cx="351.1" cy="207.3" r="4.95"/><circle cx="350.8" cy="184.2" r="4.95"/><circle cx="352.8" cy="200.1" r="4.95"/><circle cx="352.8" cy="208.5" r="4.95"/><circle cx="351.5" cy="128.6" r="4.95"/><circle cx="351.2" cy="93.5" r="4.95"/><circle cx="350.2" cy="211.6" r="4.95"/><circle cx="353.2" cy="157.5" r="4.95"/><circle cx="351.2" cy="177.6" r="4.95"/><circle cx="351.7" cy="147.7" r="4.95"/><circle cx="351.5" cy="106.9" r="4.95"/><circle cx="351.2" cy="98.5" r="4.95"/><circle cx="352.4" cy="211.3" r="4.95"/><circle cx="349.8" cy="162.4" r="4.95"/><circle cx="352.8" cy="192.2" r="4.95"/><circle cx="353.5" cy="173.0" r="4.95"/><circle cx="349.9" cy="173.3" r="4.95"/><circle cx="342.6" cy="58.3" r="4.95"/><circle cx="343.4" cy="58.3" r="4.95"/><circle cx="359.0" cy="58.3" r="4.95"/><circle cx="359.6" cy="58.3" r="4.95"/><circle cx="345.7" cy="58.3" r="4.95"/><circle cx="356.0" cy="58.3" r="4.95"/></g>
<g stroke="#000" stroke-width="1.3" fill="none"><path d="M351.2 58.3 V180.4 M344.6 58.3 H357.8 M344.6 180.4 H357.8 M347.0 118.3 H355.4"/></g>
<g fill="#f9b1aa" stroke="#0d0d0d" stroke-width="0.85"><circle cx="396.1" cy="189.9" r="4.95"/><circle cx="392.8" cy="178.6" r="4.95"/><circle cx="388.7" cy="184.7" r="4.95"/><circle cx="392.3" cy="72.3" r="4.95"/><circle cx="393.6" cy="149.7" r="4.95"/><circle cx="392.7" cy="96.8" r="4.95"/><circle cx="392.1" cy="147.1" r="4.95"/><circle cx="391.9" cy="98.5" r="4.95"/><circle cx="392.8" cy="168.8" r="4.95"/><circle cx="394.2" cy="198.8" r="4.95"/><circle cx="393.0" cy="174.2" r="4.95"/><circle cx="392.3" cy="156.9" r="4.95"/><circle cx="390.4" cy="191.9" r="4.95"/><circle cx="389.6" cy="168.5" r="4.95"/><circle cx="392.6" cy="88.5" r="4.95"/><circle cx="388.5" cy="181.8" r="4.95"/><circle cx="393.9" cy="196.5" r="4.95"/><circle cx="392.2" cy="181.4" r="4.95"/><circle cx="394.4" cy="193.3" r="4.95"/><circle cx="393.7" cy="157.2" r="4.95"/><circle cx="392.3" cy="132.5" r="4.95"/><circle cx="393.2" cy="210.8" r="4.95"/><circle cx="392.5" cy="170.7" r="4.95"/><circle cx="392.8" cy="154.2" r="4.95"/><circle cx="393.6" cy="206.0" r="4.95"/><circle cx="396.3" cy="186.2" r="4.95"/><circle cx="393.8" cy="77.9" r="4.95"/><circle cx="392.8" cy="189.4" r="4.95"/><circle cx="394.1" cy="217.2" r="4.95"/><circle cx="391.1" cy="199.2" r="4.95"/><circle cx="393.4" cy="161.9" r="4.95"/><circle cx="393.3" cy="164.1" r="4.95"/><circle cx="392.3" cy="80.6" r="4.95"/><circle cx="388.1" cy="175.8" r="4.95"/><circle cx="392.3" cy="93.5" r="4.95"/><circle cx="392.1" cy="150.5" r="4.95"/><circle cx="392.1" cy="205.6" r="4.95"/><circle cx="389.0" cy="170.9" r="4.95"/><circle cx="390.9" cy="202.4" r="4.95"/><circle cx="397.1" cy="182.9" r="4.95"/><circle cx="396.1" cy="172.2" r="4.95"/><circle cx="390.3" cy="210.8" r="4.95"/><circle cx="393.9" cy="213.4" r="4.95"/><circle cx="392.3" cy="125.8" r="4.95"/><circle cx="391.1" cy="195.6" r="4.95"/><circle cx="392.3" cy="142.6" r="4.95"/><circle cx="392.5" cy="214.2" r="4.95"/><circle cx="395.4" cy="164.4" r="4.95"/><circle cx="391.9" cy="153.8" r="4.95"/><circle cx="390.4" cy="217.8" r="4.95"/><circle cx="392.3" cy="116.4" r="4.95"/><circle cx="392.6" cy="135.9" r="4.95"/><circle cx="390.7" cy="164.5" r="4.95"/><circle cx="396.4" cy="179.3" r="4.95"/><circle cx="393.3" cy="202.4" r="4.95"/><circle cx="390.5" cy="160.1" r="4.95"/><circle cx="389.3" cy="188.2" r="4.95"/><circle cx="395.3" cy="167.2" r="4.95"/><circle cx="392.3" cy="86.2" r="4.95"/><circle cx="396.6" cy="174.8" r="4.95"/><circle cx="388.5" cy="179.3" r="4.95"/><circle cx="392.8" cy="185.2" r="4.95"/><circle cx="383.7" cy="58.3" r="4.95"/><circle cx="384.5" cy="58.3" r="4.95"/><circle cx="400.1" cy="58.3" r="4.95"/><circle cx="400.7" cy="58.3" r="4.95"/><circle cx="386.8" cy="58.3" r="4.95"/><circle cx="397.1" cy="58.3" r="4.95"/></g>
<g stroke="#000" stroke-width="1.3" fill="none"><path d="M392.3 58.3 V181 M385.7 58.3 H398.9 M385.7 181 H398.9 M388.1 135.9 H396.5"/></g>
<g fill="#c9ebc4" stroke="#0d0d0d" stroke-width="0.85"><circle cx="437.0" cy="136.4" r="4.95"/><circle cx="430.3" cy="125.6" r="4.95"/><circle cx="432.9" cy="88.1" r="4.95"/><circle cx="435.3" cy="144.2" r="4.95"/><circle cx="434.0" cy="76.7" r="4.95"/><circle cx="432.7" cy="73.5" r="4.95"/><circle cx="432.5" cy="111.2" r="4.95"/><circle cx="429.4" cy="133.1" r="4.95"/><circle cx="432.5" cy="142.8" r="4.95"/><circle cx="430.2" cy="137.1" r="4.95"/><circle cx="436.5" cy="128.9" r="4.95"/><circle cx="431.0" cy="118.7" r="4.95"/><circle cx="435.0" cy="98.7" r="4.95"/><circle cx="432.0" cy="123.0" r="4.95"/><circle cx="433.2" cy="115.2" r="4.95"/><circle cx="435.9" cy="140.2" r="4.95"/><circle cx="435.0" cy="101.8" r="4.95"/><circle cx="432.7" cy="101.2" r="4.95"/><circle cx="432.4" cy="84.0" r="4.95"/><circle cx="434.2" cy="136.4" r="4.95"/><circle cx="434.1" cy="119.6" r="4.95"/><circle cx="433.7" cy="70.3" r="4.95"/><circle cx="434.1" cy="147.3" r="4.95"/><circle cx="432.9" cy="93.9" r="4.95"/><circle cx="435.8" cy="122.6" r="4.95"/><circle cx="433.8" cy="91.3" r="4.95"/><circle cx="436.4" cy="125.1" r="4.95"/><circle cx="434.9" cy="79.9" r="4.95"/><circle cx="433.8" cy="132.1" r="4.95"/><circle cx="434.4" cy="154.2" r="4.95"/><circle cx="432.1" cy="98.0" r="4.95"/><circle cx="432.2" cy="90.4" r="4.95"/><circle cx="437.2" cy="133.4" r="4.95"/><circle cx="434.4" cy="149.6" r="4.95"/><circle cx="432.3" cy="77.8" r="4.95"/><circle cx="434.4" cy="87.9" r="4.95"/><circle cx="430.0" cy="139.3" r="4.95"/><circle cx="432.0" cy="80.3" r="4.95"/><circle cx="435.0" cy="108.6" r="4.95"/><circle cx="432.4" cy="70.9" r="4.95"/><circle cx="432.6" cy="150.3" r="4.95"/><circle cx="432.2" cy="158.3" r="4.95"/><circle cx="432.1" cy="108.8" r="4.95"/><circle cx="433.9" cy="83.4" r="4.95"/><circle cx="432.5" cy="126.4" r="4.95"/><circle cx="431.7" cy="146.5" r="4.95"/><circle cx="434.3" cy="73.4" r="4.95"/><circle cx="431.1" cy="128.8" r="4.95"/><circle cx="434.3" cy="157.3" r="4.95"/><circle cx="432.5" cy="104.3" r="4.95"/><circle cx="433.6" cy="128.8" r="4.95"/><circle cx="434.5" cy="116.3" r="4.95"/><circle cx="432.6" cy="139.6" r="4.95"/><circle cx="434.3" cy="105.5" r="4.95"/><circle cx="432.1" cy="154.3" r="4.95"/><circle cx="435.0" cy="93.6" r="4.95"/><circle cx="434.8" cy="112.1" r="4.95"/><circle cx="424.5" cy="58.3" r="4.95"/><circle cx="425.3" cy="58.3" r="4.95"/><circle cx="440.5" cy="58.3" r="4.95"/><circle cx="441.1" cy="58.3" r="4.95"/><circle cx="426.1" cy="62.6" r="4.95"/><circle cx="427.5" cy="66.0" r="4.95"/><circle cx="427.6" cy="58.3" r="4.95"/><circle cx="437.9" cy="58.3" r="4.95"/></g>
<g stroke="#000" stroke-width="1.3" fill="none"><path d="M433.1 58.3 V128.7 M426.5 58.3 H439.7 M426.5 128.7 H439.7 M428.9 95.7 H437.3"/></g>
<g fill="#c9ebc4" stroke="#0d0d0d" stroke-width="0.85"><circle cx="472.1" cy="173.6" r="4.95"/><circle cx="469.6" cy="199.2" r="4.95"/><circle cx="472.8" cy="181.1" r="4.95"/><circle cx="473.9" cy="105.9" r="4.95"/><circle cx="470.0" cy="205.2" r="4.95"/><circle cx="473.2" cy="187.5" r="4.95"/><circle cx="473.6" cy="120.0" r="4.95"/><circle cx="473.6" cy="163.1" r="4.95"/><circle cx="473.0" cy="169.8" r="4.95"/><circle cx="472.6" cy="213.2" r="4.95"/><circle cx="476.9" cy="209.5" r="4.95"/><circle cx="478.5" cy="198.4" r="4.95"/><circle cx="473.1" cy="176.8" r="4.95"/><circle cx="473.5" cy="167.1" r="4.95"/><circle cx="473.6" cy="113.8" r="4.95"/><circle cx="473.6" cy="91.7" r="4.95"/><circle cx="474.4" cy="173.6" r="4.95"/><circle cx="470.3" cy="209.4" r="4.95"/><circle cx="476.6" cy="187.8" r="4.95"/><circle cx="473.6" cy="142.9" r="4.95"/><circle cx="470.6" cy="190.6" r="4.95"/><circle cx="473.6" cy="157.0" r="4.95"/><circle cx="473.6" cy="184.4" r="4.95"/><circle cx="478.2" cy="194.4" r="4.95"/><circle cx="476.2" cy="213.2" r="4.95"/><circle cx="474.4" cy="194.6" r="4.95"/><circle cx="473.6" cy="137.4" r="4.95"/><circle cx="474.3" cy="192.2" r="4.95"/><circle cx="470.6" cy="187.7" r="4.95"/><circle cx="474.9" cy="184.7" r="4.95"/><circle cx="473.6" cy="99.6" r="4.95"/><circle cx="474.4" cy="197.7" r="4.95"/><circle cx="469.5" cy="194.6" r="4.95"/><circle cx="477.9" cy="206.1" r="4.95"/><circle cx="474.8" cy="205.7" r="4.95"/><circle cx="469.7" cy="201.3" r="4.95"/><circle cx="473.9" cy="128.7" r="4.95"/><circle cx="478.1" cy="191.6" r="4.95"/><circle cx="473.9" cy="150.8" r="4.95"/><circle cx="474.8" cy="180.5" r="4.95"/><circle cx="473.6" cy="75.2" r="4.95"/><circle cx="473.2" cy="202.8" r="4.95"/><circle cx="474.0" cy="209.5" r="4.95"/><circle cx="474.5" cy="178.1" r="4.95"/><circle cx="473.9" cy="78.3" r="4.95"/><circle cx="473.6" cy="69.7" r="4.95"/><circle cx="478.3" cy="201.4" r="4.95"/><circle cx="473.8" cy="160.8" r="4.95"/><circle cx="465.0" cy="58.3" r="4.95"/><circle cx="465.8" cy="58.3" r="4.95"/><circle cx="481.4" cy="58.3" r="4.95"/><circle cx="482.0" cy="58.3" r="4.95"/><circle cx="468.1" cy="58.3" r="4.95"/><circle cx="478.4" cy="58.3" r="4.95"/></g>
<g stroke="#000" stroke-width="1.3" fill="none"><path d="M473.6 58.3 V191.9 M467.0 58.3 H480.2 M467.0 191.9 H480.2 M469.4 157 H477.8"/></g>
<g fill="#abc4ec" stroke="#0d0d0d" stroke-width="0.85"><circle cx="510.4" cy="85.3" r="4.95"/><circle cx="519.2" cy="133.4" r="4.95"/><circle cx="507.5" cy="123.5" r="4.95"/><circle cx="513.6" cy="81.2" r="4.95"/><circle cx="517.9" cy="81.8" r="4.95"/><circle cx="510.7" cy="100.7" r="4.95"/><circle cx="516.3" cy="151.3" r="4.95"/><circle cx="519.9" cy="87.2" r="4.95"/><circle cx="506.7" cy="108.5" r="4.95"/><circle cx="521.2" cy="123.5" r="4.95"/><circle cx="511.8" cy="145.6" r="4.95"/><circle cx="512.8" cy="88.4" r="4.95"/><circle cx="521.9" cy="117.9" r="4.95"/><circle cx="514.6" cy="108.2" r="4.95"/><circle cx="509.3" cy="88.2" r="4.95"/><circle cx="513.3" cy="130.9" r="4.95"/><circle cx="514.7" cy="72.1" r="4.95"/><circle cx="508.9" cy="105.5" r="4.95"/><circle cx="511.9" cy="120.9" r="4.95"/><circle cx="513.8" cy="153.1" r="4.95"/><circle cx="517.5" cy="78.2" r="4.95"/><circle cx="511.9" cy="139.5" r="4.95"/><circle cx="508.0" cy="93.5" r="4.95"/><circle cx="516.0" cy="103.0" r="4.95"/><circle cx="522.1" cy="106.2" r="4.95"/><circle cx="517.6" cy="148.8" r="4.95"/><circle cx="511.7" cy="142.5" r="4.95"/><circle cx="511.2" cy="111.9" r="4.95"/><circle cx="521.2" cy="112.3" r="4.95"/><circle cx="517.2" cy="132.3" r="4.95"/><circle cx="510.8" cy="97.4" r="4.95"/><circle cx="516.2" cy="73.7" r="4.95"/><circle cx="515.9" cy="153.9" r="4.95"/><circle cx="517.5" cy="118.3" r="4.95"/><circle cx="510.7" cy="81.9" r="4.95"/><circle cx="522.6" cy="109.2" r="4.95"/><circle cx="512.4" cy="124.5" r="4.95"/><circle cx="516.4" cy="84.9" r="4.95"/><circle cx="511.9" cy="76.1" r="4.95"/><circle cx="522.3" cy="103.3" r="4.95"/><circle cx="512.4" cy="105.2" r="4.95"/><circle cx="519.2" cy="102.9" r="4.95"/><circle cx="506.8" cy="118.7" r="4.95"/><circle cx="514.9" cy="138.4" r="4.95"/><circle cx="511.6" cy="114.8" r="4.95"/><circle cx="515.0" cy="91.8" r="4.95"/><circle cx="515.1" cy="144.7" r="4.95"/><circle cx="517.2" cy="94.1" r="4.95"/><circle cx="509.4" cy="130.3" r="4.95"/><circle cx="508.4" cy="115.2" r="4.95"/><circle cx="521.9" cy="96.2" r="4.95"/><circle cx="515.7" cy="87.8" r="4.95"/><circle cx="514.1" cy="118.7" r="4.95"/><circle cx="518.8" cy="108.5" r="4.95"/><circle cx="518.2" cy="141.3" r="4.95"/><circle cx="514.3" cy="111.6" r="4.95"/><circle cx="514.7" cy="135.4" r="4.95"/><circle cx="515.6" cy="114.1" r="4.95"/><circle cx="509.1" cy="126.5" r="4.95"/><circle cx="521.9" cy="114.8" r="4.95"/><circle cx="510.3" cy="133.0" r="4.95"/><circle cx="518.8" cy="112.9" r="4.95"/><circle cx="516.2" cy="106.6" r="4.95"/><circle cx="520.9" cy="120.5" r="4.95"/><circle cx="513.7" cy="94.1" r="4.95"/><circle cx="510.6" cy="102.2" r="4.95"/><circle cx="516.3" cy="76.2" r="4.95"/><circle cx="516.4" cy="129.9" r="4.95"/><circle cx="515.4" cy="97.8" r="4.95"/><circle cx="515.7" cy="78.9" r="4.95"/><circle cx="513.1" cy="133.5" r="4.95"/><circle cx="515.0" cy="100.0" r="4.95"/><circle cx="512.8" cy="150.8" r="4.95"/><circle cx="515.2" cy="70.7" r="4.95"/><circle cx="506.5" cy="106.1" r="4.95"/><circle cx="518.2" cy="120.1" r="4.95"/><circle cx="517.5" cy="144.9" r="4.95"/><circle cx="518.8" cy="96.3" r="4.95"/><circle cx="510.8" cy="117.8" r="4.95"/><circle cx="519.5" cy="114.3" r="4.95"/><circle cx="520.4" cy="126.5" r="4.95"/><circle cx="508.2" cy="96.1" r="4.95"/><circle cx="515.1" cy="120.9" r="4.95"/><circle cx="518.5" cy="91.8" r="4.95"/><circle cx="517.4" cy="126.6" r="4.95"/><circle cx="515.2" cy="156.8" r="4.95"/><circle cx="507.4" cy="103.0" r="4.95"/><circle cx="509.4" cy="121.1" r="4.95"/><circle cx="518.1" cy="138.2" r="4.95"/><circle cx="520.0" cy="105.2" r="4.95"/><circle cx="508.6" cy="90.4" r="4.95"/><circle cx="522.2" cy="99.4" r="4.95"/><circle cx="511.6" cy="93.8" r="4.95"/><circle cx="506.4" cy="111.1" r="4.95"/><circle cx="512.4" cy="90.6" r="4.95"/><circle cx="511.9" cy="148.2" r="4.95"/><circle cx="514.8" cy="141.4" r="4.95"/><circle cx="511.2" cy="109.5" r="4.95"/><circle cx="512.1" cy="79.6" r="4.95"/><circle cx="520.7" cy="130.1" r="4.95"/><circle cx="510.7" cy="135.2" r="4.95"/><circle cx="521.6" cy="94.4" r="4.95"/><circle cx="517.8" cy="136.4" r="4.95"/><circle cx="516.6" cy="123.9" r="4.95"/><circle cx="506.2" cy="100.5" r="4.95"/><circle cx="520.0" cy="85.5" r="4.95"/><circle cx="517.7" cy="99.5" r="4.95"/><circle cx="520.8" cy="91.0" r="4.95"/><circle cx="514.4" cy="84.4" r="4.95"/><circle cx="513.1" cy="127.2" r="4.95"/><circle cx="514.4" cy="58.3" r="4.95"/></g>
<g stroke="#000" stroke-width="1.3" fill="none"><path d="M514.4 94.1 V125.3 M507.8 94.1 H521.0 M507.8 125.3 H521.0 M510.2 107.2 H518.6"/></g>
<g fill="#abc4ec" stroke="#0d0d0d" stroke-width="0.85"><circle cx="555.4" cy="132.6" r="4.95"/><circle cx="554.1" cy="138.7" r="4.95"/><circle cx="552.7" cy="93.9" r="4.95"/><circle cx="552.8" cy="150.7" r="4.95"/><circle cx="551.2" cy="144.1" r="4.95"/><circle cx="559.5" cy="130.0" r="4.95"/><circle cx="555.4" cy="130.4" r="4.95"/><circle cx="561.5" cy="119.8" r="4.95"/><circle cx="556.0" cy="144.1" r="4.95"/><circle cx="553.2" cy="126.4" r="4.95"/><circle cx="560.9" cy="116.9" r="4.95"/><circle cx="555.8" cy="87.8" r="4.95"/><circle cx="553.0" cy="128.8" r="4.95"/><circle cx="549.6" cy="135.8" r="4.95"/><circle cx="548.6" cy="132.9" r="4.95"/><circle cx="548.2" cy="123.5" r="4.95"/><circle cx="547.8" cy="130.0" r="4.95"/><circle cx="560.3" cy="111.0" r="4.95"/><circle cx="552.2" cy="110.8" r="4.95"/><circle cx="555.3" cy="103.0" r="4.95"/><circle cx="559.4" cy="123.1" r="4.95"/><circle cx="557.0" cy="153.9" r="4.95"/><circle cx="554.7" cy="121.1" r="4.95"/><circle cx="558.4" cy="141.3" r="4.95"/><circle cx="555.2" cy="153.7" r="4.95"/><circle cx="552.8" cy="124.5" r="4.95"/><circle cx="555.7" cy="147.9" r="4.95"/><circle cx="555.3" cy="162.5" r="4.95"/><circle cx="553.2" cy="87.8" r="4.95"/><circle cx="562.7" cy="132.0" r="4.95"/><circle cx="559.7" cy="109.0" r="4.95"/><circle cx="552.3" cy="105.9" r="4.95"/><circle cx="558.1" cy="117.3" r="4.95"/><circle cx="550.1" cy="137.9" r="4.95"/><circle cx="551.7" cy="119.8" r="4.95"/><circle cx="559.0" cy="83.9" r="4.95"/><circle cx="560.1" cy="113.9" r="4.95"/><circle cx="556.2" cy="126.8" r="4.95"/><circle cx="554.7" cy="117.4" r="4.95"/><circle cx="551.4" cy="117.3" r="4.95"/><circle cx="562.5" cy="135.4" r="4.95"/><circle cx="553.7" cy="99.2" r="4.95"/><circle cx="553.7" cy="147.9" r="4.95"/><circle cx="557.9" cy="98.8" r="4.95"/><circle cx="551.1" cy="84.9" r="4.95"/><circle cx="556.4" cy="123.8" r="4.95"/><circle cx="559.4" cy="144.1" r="4.95"/><circle cx="551.0" cy="107.9" r="4.95"/><circle cx="555.4" cy="93.6" r="4.95"/><circle cx="558.8" cy="105.3" r="4.95"/><circle cx="546.9" cy="127.5" r="4.95"/><circle cx="560.3" cy="141.5" r="4.95"/><circle cx="549.6" cy="121.2" r="4.95"/><circle cx="552.2" cy="95.9" r="4.95"/><circle cx="559.1" cy="121.5" r="4.95"/><circle cx="558.1" cy="151.0" r="4.95"/><circle cx="555.3" cy="222.5" r="4.95"/><circle cx="552.3" cy="136.2" r="4.95"/><circle cx="559.0" cy="90.4" r="4.95"/><circle cx="563.2" cy="123.8" r="4.95"/><circle cx="555.3" cy="173.8" r="4.95"/><circle cx="557.9" cy="103.0" r="4.95"/><circle cx="550.6" cy="115.4" r="4.95"/><circle cx="556.6" cy="110.7" r="4.95"/><circle cx="554.7" cy="84.9" r="4.95"/><circle cx="558.9" cy="87.5" r="4.95"/><circle cx="552.0" cy="141.0" r="4.95"/><circle cx="552.8" cy="90.9" r="4.95"/><circle cx="555.3" cy="115.3" r="4.95"/><circle cx="563.0" cy="125.8" r="4.95"/><circle cx="554.7" cy="91.5" r="4.95"/><circle cx="550.9" cy="126.6" r="4.95"/><circle cx="555.3" cy="195.5" r="4.95"/><circle cx="558.5" cy="94.3" r="4.95"/><circle cx="558.8" cy="132.7" r="4.95"/><circle cx="554.8" cy="141.7" r="4.95"/><circle cx="555.0" cy="108.8" r="4.95"/><circle cx="556.9" cy="105.6" r="4.95"/><circle cx="557.3" cy="139.2" r="4.95"/><circle cx="560.8" cy="126.6" r="4.95"/><circle cx="551.8" cy="132.5" r="4.95"/><circle cx="555.0" cy="97.4" r="4.95"/><circle cx="559.7" cy="135.7" r="4.95"/><circle cx="558.4" cy="147.1" r="4.95"/><circle cx="557.6" cy="96.5" r="4.95"/><circle cx="555.3" cy="184.5" r="4.95"/><circle cx="560.3" cy="139.0" r="4.95"/><circle cx="556.6" cy="135.3" r="4.95"/><circle cx="552.4" cy="103.5" r="4.95"/><circle cx="563.7" cy="128.7" r="4.95"/><circle cx="555.3" cy="58.3" r="4.95"/></g>
<g stroke="#000" stroke-width="1.3" fill="none"><path d="M555.3 111.3 V139.3 M548.7 111.3 H561.9 M548.7 139.3 H561.9 M551.1 128 H559.5"/></g>
<g fill="#000000" stroke="#000" stroke-width="0.85"><circle cx="594.6" cy="172.4" r="4.95"/><circle cx="597.9" cy="147.2" r="4.95"/><circle cx="596.4" cy="198.2" r="4.95"/><circle cx="595.7" cy="127.3" r="4.95"/><circle cx="594.8" cy="177.4" r="4.95"/><circle cx="588.3" cy="148.4" r="4.95"/><circle cx="597.4" cy="165.8" r="4.95"/><circle cx="602.5" cy="154.8" r="4.95"/><circle cx="589.8" cy="141.6" r="4.95"/><circle cx="593.1" cy="156.2" r="4.95"/><circle cx="597.1" cy="142.9" r="4.95"/><circle cx="604.0" cy="151.1" r="4.95"/><circle cx="591.4" cy="135.9" r="4.95"/><circle cx="599.6" cy="154.8" r="4.95"/><circle cx="597.9" cy="133.2" r="4.95"/><circle cx="594.9" cy="135.8" r="4.95"/><circle cx="592.9" cy="130.6" r="4.95"/><circle cx="599.2" cy="127.0" r="4.95"/><circle cx="605.7" cy="148.0" r="4.95"/><circle cx="593.2" cy="142.1" r="4.95"/><circle cx="596.2" cy="138.2" r="4.95"/><circle cx="595.6" cy="124.5" r="4.95"/><circle cx="597.0" cy="159.2" r="4.95"/><circle cx="590.8" cy="138.9" r="4.95"/><circle cx="595.4" cy="169.2" r="4.95"/><circle cx="601.3" cy="135.7" r="4.95"/><circle cx="593.7" cy="144.8" r="4.95"/><circle cx="591.3" cy="148.2" r="4.95"/><circle cx="601.7" cy="145.8" r="4.95"/><circle cx="594.8" cy="162.6" r="4.95"/><circle cx="597.5" cy="178.7" r="4.95"/><circle cx="597.6" cy="174.7" r="4.95"/><circle cx="594.5" cy="148.1" r="4.95"/><circle cx="600.4" cy="132.4" r="4.95"/><circle cx="596.2" cy="130.7" r="4.95"/><circle cx="596.1" cy="154.4" r="4.95"/><circle cx="594.5" cy="166.4" r="4.95"/><circle cx="599.5" cy="129.2" r="4.95"/><circle cx="599.2" cy="160.7" r="4.95"/><circle cx="597.8" cy="169.3" r="4.95"/><circle cx="598.4" cy="172.2" r="4.95"/><circle cx="592.5" cy="153.6" r="4.95"/><circle cx="596.4" cy="101.0" r="4.95"/><circle cx="601.2" cy="147.7" r="4.95"/><circle cx="598.6" cy="139.3" r="4.95"/><circle cx="597.9" cy="118.8" r="4.95"/><circle cx="595.5" cy="118.3" r="4.95"/><circle cx="597.0" cy="145.5" r="4.95"/><circle cx="597.7" cy="135.1" r="4.95"/><circle cx="599.0" cy="142.1" r="4.95"/><circle cx="589.5" cy="150.5" r="4.95"/><circle cx="604.0" cy="144.6" r="4.95"/><circle cx="596.8" cy="157.1" r="4.95"/><circle cx="602.6" cy="138.6" r="4.95"/><circle cx="593.1" cy="150.7" r="4.95"/><circle cx="596.7" cy="150.1" r="4.95"/><circle cx="597.1" cy="123.4" r="4.95"/><circle cx="595.3" cy="120.7" r="4.95"/><circle cx="600.7" cy="156.7" r="4.95"/><circle cx="603.5" cy="142.7" r="4.95"/><circle cx="598.7" cy="162.4" r="4.95"/><circle cx="596.6" cy="181.8" r="4.95"/><circle cx="593.2" cy="132.5" r="4.95"/><circle cx="589.8" cy="153.4" r="4.95"/><circle cx="594.1" cy="159.9" r="4.95"/><circle cx="595.4" cy="175.6" r="4.95"/><circle cx="598.0" cy="121.0" r="4.95"/><circle cx="596.4" cy="107.0" r="4.95"/><circle cx="601.7" cy="150.9" r="4.95"/><circle cx="590.2" cy="145.2" r="4.95"/></g>
<g stroke="#e89a8f" stroke-width="1.3" fill="none"><path d="M596.4 138.5 V154.4 M589.8 138.5 H603.0 M589.8 154.4 H603.0 M592.2 148.4 H600.6"/></g>
<g stroke="#000" fill="none">
<line x1="78.6" y1="46.9" x2="78.6" y2="258.3" stroke-width="2"/>
<line x1="69.9" y1="257.4" x2="624" y2="257.4" stroke-width="2"/>
<line x1="69.9" y1="47.8" x2="79.6" y2="47.8" stroke-width="1.8"/>
<line x1="69.9" y1="82.8" x2="79.6" y2="82.8" stroke-width="1.8"/>
<line x1="69.9" y1="117.8" x2="79.6" y2="117.8" stroke-width="1.8"/>
<line x1="69.9" y1="152.8" x2="79.6" y2="152.8" stroke-width="1.8"/>
<line x1="69.9" y1="187.8" x2="79.6" y2="187.8" stroke-width="1.8"/>
<line x1="69.9" y1="222.8" x2="79.6" y2="222.8" stroke-width="1.8"/>
</g>
<text transform="translate(66.00,54.00) scale(0.990,1.020)" text-anchor="end" font-family="Liberation Sans" font-weight="bold" font-size="15" fill="#000">10<tspan font-size="10" dy="-6">2</tspan></text>
<text transform="translate(66.00,89.00) scale(0.990,1.020)" text-anchor="end" font-family="Liberation Sans" font-weight="bold" font-size="15" fill="#000">10<tspan font-size="10" dy="-6">1</tspan></text>
<text transform="translate(66.00,124.00) scale(0.990,1.020)" text-anchor="end" font-family="Liberation Sans" font-weight="bold" font-size="15" fill="#000">10<tspan font-size="10" dy="-6">0</tspan></text>
<text transform="translate(65.40,159.00) scale(0.990,1.020)" text-anchor="end" font-family="Liberation Sans" font-weight="bold" font-size="15" fill="#000">10<tspan font-size="10" dy="-6">-1</tspan></text>
<text transform="translate(65.40,194.00) scale(0.990,1.020)" text-anchor="end" font-family="Liberation Sans" font-weight="bold" font-size="15" fill="#000">10<tspan font-size="10" dy="-6">-2</tspan></text>
<text transform="translate(65.40,229.00) scale(0.990,1.020)" text-anchor="end" font-family="Liberation Sans" font-weight="bold" font-size="15" fill="#000">10<tspan font-size="10" dy="-6">-3</tspan></text>
<text transform="translate(65.40,264.00) scale(0.990,1.020)" text-anchor="end" font-family="Liberation Sans" font-weight="bold" font-size="15" fill="#000">10<tspan font-size="10" dy="-6">-4</tspan></text>
<text transform="translate(24.60,212.00) rotate(-90) scale(1.000,1.096)" text-anchor="start" font-family="Liberation Sans" font-weight="normal" font-size="21" fill="#000">IC<tspan font-size="15" dy="5.7">50</tspan><tspan dy="-5.7"> (µg/mL)</tspan></text>
<text transform="translate(109.20,268.30) rotate(-45)" text-anchor="end" font-family="Liberation Sans" font-weight="bold" font-size="14.5" fill="#000">VRC07</text>
<text transform="translate(150.40,268.30) rotate(-45)" text-anchor="end" font-family="Liberation Sans" font-weight="bold" font-size="14.5" fill="#000">VRC01</text>
<text transform="translate(191.50,268.30) rotate(-45)" text-anchor="end" font-family="Liberation Sans" font-weight="bold" font-size="14.5" fill="#000">3BNC117</text>
<text transform="translate(232.40,268.30) rotate(-45)" text-anchor="end" font-family="Liberation Sans" font-weight="bold" font-size="14.5" fill="#000">PGDM1400</text>
<text transform="translate(273.10,268.30) rotate(-45)" text-anchor="end" font-family="Liberation Sans" font-weight="bold" font-size="14.5" fill="#000">PG9</text>
<text transform="translate(314.30,268.30) rotate(-45)" text-anchor="end" font-family="Liberation Sans" font-weight="bold" font-size="14.5" fill="#000">10-1074</text>
<text transform="translate(355.20,268.30) rotate(-45)" text-anchor="end" font-family="Liberation Sans" font-weight="bold" font-size="14.5" fill="#000">PGT121</text>
<text transform="translate(396.30,268.30) rotate(-45)" text-anchor="end" font-family="Liberation Sans" font-weight="bold" font-size="14.5" fill="#000">PGT128</text>
<text transform="translate(437.10,268.30) rotate(-45)" text-anchor="end" font-family="Liberation Sans" font-weight="bold" font-size="14.5" fill="#000">8ANC195</text>
<text transform="translate(477.60,268.30) rotate(-45)" text-anchor="end" font-family="Liberation Sans" font-weight="bold" font-size="14.5" fill="#000">PGT151</text>
<text transform="translate(518.40,268.30) rotate(-45)" text-anchor="end" font-family="Liberation Sans" font-weight="bold" font-size="14.5" fill="#000">4E10</text>
<text transform="translate(559.30,268.30) rotate(-45)" text-anchor="end" font-family="Liberation Sans" font-weight="bold" font-size="14.5" fill="#000">10E8v4</text>
<text transform="translate(600.40,268.30) rotate(-45)" text-anchor="end" font-family="Liberation Sans" font-weight="bold" font-size="14.5" fill="#000">iMab/D5_AR</text>
<text transform="translate(146.50,21.90) scale(0.970,1.030)" text-anchor="middle" font-family="Liberation Sans" font-weight="normal" font-size="14" fill="#000">CD4bs</text>
<text transform="translate(251.00,21.40) scale(0.970,1.030)" text-anchor="middle" font-family="Liberation Sans" font-weight="normal" font-size="14" fill="#000">V1/V2</text>
<text transform="translate(349.90,21.90) scale(0.970,1.030)" text-anchor="middle" font-family="Liberation Sans" font-weight="normal" font-size="14" fill="#000">V3</text>
<text transform="translate(538.70,21.90) scale(0.970,1.030)" text-anchor="middle" font-family="Liberation Sans" font-weight="normal" font-size="14" fill="#000">MPER</text>
<text transform="translate(597.20,21.40) scale(0.970,1.030)" text-anchor="middle" font-family="Liberation Sans" font-weight="normal" font-size="14" fill="#000">NHR</text>
<text transform="translate(452.00,11.50) scale(0.970,1.030)" text-anchor="middle" font-family="Liberation Sans" font-weight="normal" font-size="14" fill="#000">gp120/gp41</text>
<text transform="translate(452.60,31.50) scale(0.970,1.030)" text-anchor="middle" font-family="Liberation Sans" font-weight="normal" font-size="14" fill="#000">interface</text>
<text transform="translate(-0.50,12.80)" text-anchor="start" font-family="Liberation Sans" font-weight="normal" font-size="18" fill="#000">A</text>
<text transform="translate(-0.50,374.80)" text-anchor="start" font-family="Liberation Sans" font-weight="normal" font-size="18" fill="#000">B</text>
<line x1="323.6" y1="437.9" x2="323.6" y2="688" stroke="#0a8cff" stroke-width="2.2" stroke-linecap="round" stroke-dasharray="0 4.2"/>
<g stroke="#000" fill="none">
<line x1="141.8" y1="436.8" x2="141.8" y2="698.7" stroke-width="2.3"/>
<line x1="130.2" y1="688.3" x2="463.8" y2="688.3" stroke-width="2.1"/>
<line x1="130.2" y1="437.9" x2="142" y2="437.9" stroke-width="2.1"/>
<line x1="130.2" y1="488.0" x2="142" y2="488.0" stroke-width="2.1"/>
<line x1="130.2" y1="538.1" x2="142" y2="538.1" stroke-width="2.1"/>
<line x1="130.2" y1="588.2" x2="142" y2="588.2" stroke-width="2.1"/>
<line x1="130.2" y1="638.3" x2="142" y2="638.3" stroke-width="2.1"/>
<line x1="248.8" y1="688" x2="248.8" y2="698.6" stroke-width="2.2"/>
<line x1="355.8" y1="688" x2="355.8" y2="698.6" stroke-width="2.2"/>
<line x1="462.7" y1="688" x2="462.7" y2="698.6" stroke-width="2.2"/>
</g>
<text transform="translate(126.30,444.90) scale(1.130,1.035)" text-anchor="end" font-family="Liberation Sans" font-weight="bold" font-size="19" fill="#000">100</text>
<text transform="translate(126.30,495.00) scale(1.130,1.035)" text-anchor="end" font-family="Liberation Sans" font-weight="bold" font-size="19" fill="#000">80</text>
<text transform="translate(126.30,545.10) scale(1.130,1.035)" text-anchor="end" font-family="Liberation Sans" font-weight="bold" font-size="19" fill="#000">60</text>
<text transform="translate(126.30,595.20) scale(1.130,1.035)" text-anchor="end" font-family="Liberation Sans" font-weight="bold" font-size="19" fill="#000">40</text>
<text transform="translate(126.30,645.30) scale(1.130,1.035)" text-anchor="end" font-family="Liberation Sans" font-weight="bold" font-size="19" fill="#000">20</text>
<text transform="translate(126.30,695.40) scale(1.130,1.035)" text-anchor="end" font-family="Liberation Sans" font-weight="bold" font-size="19" fill="#000">0</text>
<text transform="translate(140.60,720.00) scale(1.080,1.000)" text-anchor="middle" font-family="Liberation Sans" font-weight="bold" font-size="19" fill="#000">0.1</text>
<text transform="translate(248.30,720.00) scale(1.080,1.000)" text-anchor="middle" font-family="Liberation Sans" font-weight="bold" font-size="19" fill="#000">1</text>
<text transform="translate(355.70,720.00) scale(1.080,1.000)" text-anchor="middle" font-family="Liberation Sans" font-weight="bold" font-size="19" fill="#000">10</text>
<text transform="translate(463.00,720.00) scale(1.080,1.000)" text-anchor="middle" font-family="Liberation Sans" font-weight="bold" font-size="19" fill="#000">100</text>
<text transform="translate(137.67,754.50) scale(1.098,1.000)" text-anchor="start" font-family="Liberation Sans" font-weight="normal" font-size="24" fill="#000">Potency (Mean IC<tspan font-size="17" dy="7">80</tspan><tspan dy="-7">, µg/mL)</tspan></text>
<text transform="translate(71.00,563.00) rotate(-90) scale(0.883,1.000)" text-anchor="middle" font-family="Liberation Sans" font-weight="normal" font-size="27" fill="#000">Breadth (%)</text>
<ellipse cx="225.8" cy="450.2" rx="6.55" ry="5.6" fill="#000000" stroke="#222" stroke-width="0.9"/>
<ellipse cx="227.1" cy="467.4" rx="6.55" ry="5.6" fill="#ecd341" stroke="#222" stroke-width="0.9"/>
<ellipse cx="236.5" cy="487.7" rx="6.55" ry="5.6" fill="#ecd341" stroke="#222" stroke-width="0.9"/>
<ellipse cx="270.2" cy="498.7" rx="6.55" ry="5.6" fill="#ecd341" stroke="#222" stroke-width="0.9"/>
<ellipse cx="212.7" cy="515.6" rx="6.55" ry="5.6" fill="#dcc1fb" stroke="#222" stroke-width="0.9"/>
<ellipse cx="260.1" cy="522.3" rx="6.55" ry="5.6" fill="#dcc1fb" stroke="#222" stroke-width="0.9"/>
<ellipse cx="306.2" cy="538.6" rx="6.55" ry="5.6" fill="#abc4ec" stroke="#222" stroke-width="0.9"/>
<ellipse cx="258.8" cy="550.3" rx="6.55" ry="5.6" fill="#f9b1aa" stroke="#222" stroke-width="0.9"/>
<ellipse cx="281.7" cy="551" rx="6.55" ry="5.6" fill="#f9b1aa" stroke="#222" stroke-width="0.9"/>
<ellipse cx="277.3" cy="576.4" rx="6.55" ry="5.6" fill="#c9ebc4" stroke="#222" stroke-width="0.9"/>
<ellipse cx="280.3" cy="565.7" rx="6.55" ry="5.6" fill="#f9b1aa" stroke="#222" stroke-width="0.9"/>
<ellipse cx="340.6" cy="599.4" rx="6.55" ry="5.6" fill="#abc4ec" stroke="#222" stroke-width="0.9"/>
<ellipse cx="366.1" cy="604.1" rx="6.55" ry="5.6" fill="#c9ebc4" stroke="#222" stroke-width="0.9"/>
<text transform="translate(197.06,437.40) scale(1.002,1.030)" text-anchor="start" font-family="Liberation Sans" font-weight="bold" font-size="11.5" fill="#000">iMab/D5_AR</text>
<text transform="translate(238.57,464.70) scale(1.001,1.030)" text-anchor="start" font-family="Liberation Sans" font-weight="bold" font-size="11.5" fill="#c4a935">VRC07</text>
<text transform="translate(247.70,483.80) scale(0.989,1.030)" text-anchor="start" font-family="Liberation Sans" font-weight="bold" font-size="11.5" fill="#c4a935">3BNC117</text>
<text transform="translate(285.54,499.50) scale(0.974,1.030)" text-anchor="start" font-family="Liberation Sans" font-weight="bold" font-size="11.5" fill="#c4a935">VRC01</text>
<text transform="translate(180.95,505.10) scale(0.985,1.030)" text-anchor="start" font-family="Liberation Sans" font-weight="bold" font-size="11.5" fill="#a771e8">PGDM1400</text>
<text transform="translate(225.19,526.30) scale(0.996,1.030)" text-anchor="start" font-family="Liberation Sans" font-weight="bold" font-size="11.5" fill="#a771e8">PG9</text>
<text transform="translate(283.91,529.10) scale(0.957,1.030)" text-anchor="start" font-family="Liberation Sans" font-weight="bold" font-size="11.5" fill="#3d78d2">10E8v4</text>
<text transform="translate(207.65,554.60) scale(0.981,1.030)" text-anchor="start" font-family="Liberation Sans" font-weight="bold" font-size="11.5" fill="#e35d57">PGT128</text>
<text transform="translate(256.01,541.50) scale(0.972,1.030)" text-anchor="start" font-family="Liberation Sans" font-weight="bold" font-size="11.5" fill="#e35d57">10-1074</text>
<text transform="translate(257.46,595.10) scale(0.996,1.030)" text-anchor="start" font-family="Liberation Sans" font-weight="bold" font-size="11.5" fill="#3f922e">PGT151</text>
<text transform="translate(228.73,569.00) scale(0.979,1.030)" text-anchor="start" font-family="Liberation Sans" font-weight="bold" font-size="11.5" fill="#e35d57">PGT121</text>
<text transform="translate(328.21,586.90) scale(1.003,1.030)" text-anchor="start" font-family="Liberation Sans" font-weight="bold" font-size="11.5" fill="#3d78d2">4E10</text>
<text transform="translate(347.52,622.90) scale(0.981,1.030)" text-anchor="start" font-family="Liberation Sans" font-weight="bold" font-size="11.5" fill="#3f922e">8ANC195</text>
<circle cx="495.9" cy="489.1" r="5.1" fill="#ecd341" stroke="#222" stroke-width="0.8"/>
<text transform="translate(514.80,495.50) scale(1.000,1.040)" text-anchor="start" font-family="Liberation Sans" font-weight="normal" font-size="17" fill="#000">CD4bs</text>
<circle cx="495.9" cy="516.9" r="5.1" fill="#dcc1fb" stroke="#222" stroke-width="0.8"/>
<text transform="translate(514.80,522.40) scale(1.000,1.040)" text-anchor="start" font-family="Liberation Sans" font-weight="normal" font-size="17" fill="#000">V1/V2 loop</text>
<circle cx="495.9" cy="544.4" r="5.1" fill="#f9b1aa" stroke="#222" stroke-width="0.8"/>
<text transform="translate(514.80,549.00) scale(1.000,1.040)" text-anchor="start" font-family="Liberation Sans" font-weight="normal" font-size="17" fill="#000">High mannose V3 loop</text>
<circle cx="495.9" cy="570.4" r="5.1" fill="#c9ebc4" stroke="#222" stroke-width="0.8"/>
<text transform="translate(514.80,574.00) scale(1.000,1.040)" text-anchor="start" font-family="Liberation Sans" font-weight="normal" font-size="17" fill="#000">gp120/gp41 interface</text>
<circle cx="495.9" cy="597.3" r="5.1" fill="#abc4ec" stroke="#222" stroke-width="0.8"/>
<text transform="translate(514.80,603.10) scale(1.000,1.040)" text-anchor="start" font-family="Liberation Sans" font-weight="normal" font-size="17" fill="#000">MPER</text>
<circle cx="495.9" cy="623.3" r="5.1" fill="#000000" stroke="#222" stroke-width="0.8"/>
<text transform="translate(514.80,629.40) scale(1.000,1.040)" text-anchor="start" font-family="Liberation Sans" font-weight="normal" font-size="17" fill="#000">NHR</text>
</svg>
</body></html>
